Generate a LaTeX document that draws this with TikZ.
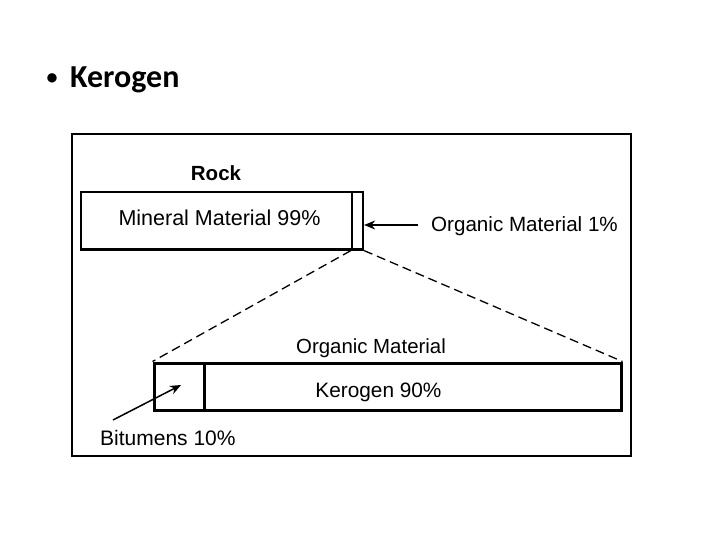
\documentclass[tikz,border=0pt]{standalone}
\usepackage{fontspec}
\setmainfont{Liberation Sans}
\newfontfamily\headfont{Carlito}
\usetikzlibrary{arrows.meta}
\begin{document}
\begin{tikzpicture}[x=1pt,y=-1pt,
  lbl/.style={inner sep=0pt,anchor=base,font=\fontsize{21}{25}\selectfont},
  lblw/.style={lbl,anchor=base west},
  toprect/.style={draw,line width=2.2pt,inner sep=0pt,minimum height=57.5pt},
  botrect/.style={draw,line width=3pt,inner sep=0pt,minimum height=47pt},
  pointer/.style={line width=1.5pt,-{Stealth[length=11pt,width=9pt]}},
  zoomline/.style={line width=1.3pt,dash pattern=on 9pt off 5pt}]
\path[use as bounding box,fill=white] (0,0) rectangle (720,540);
% heading
\node[inner sep=0pt,anchor=base,font=\headfont\bfseries\fontsize{22}{26}\selectfont] (bul) at (52,84.5) {•};
\node[inner sep=0pt,anchor=base west,font=\headfont\bfseries\fontsize{32}{36}\selectfont] (head) at (70,87.5) {Kerogen};
% frame
\node[draw,line width=2.4pt,inner sep=0pt,minimum width=559pt,minimum height=322pt] (frame) at (351.5,295) {};
% top bar
\node[toprect,minimum width=271pt] (mineral) at (216.5,220.75) {};
\node[toprect,minimum width=11pt] (org1) at (357.5,220.75) {};
\node[lbl,font=\bfseries\fontsize{20.5}{24}\selectfont] (rock) at (216,181) {Rock};
\node[lbl,font=\fontsize{21.5}{25}\selectfont] (mintxt) at (219.5,225.5) {Mineral Material 99\%};
\node[lblw,font=\fontsize{20.6}{25}\selectfont] (orgtxt) at (431,231) {Organic Material 1\%};
\coordinate (a1) at (418,225);
\draw[pointer] (a1) -- (org1.east |- a1);
% bottom bar
\node[botrect,minimum width=50pt] (bit) at (179,386.5) {};
\node[botrect,minimum width=417pt] (ker) at (412.5,386.5) {};
\node[lbl,font=\fontsize{20.4}{25}\selectfont] (orgmat) at (371,353) {Organic Material};
\node[lbl,font=\fontsize{20.8}{25}\selectfont] (kertxt) at (378.5,397) {Kerogen 90\%};
\node[lblw,font=\fontsize{21}{25}\selectfont] (bittxt) at (100,445) {Bitumens 10\%};
\coordinate (b1) at (113,420);
\coordinate (b2) at (181,385);
\draw[pointer] (b1) -- (b2);
% zoom lines
\draw[zoomline] (org1.south west) -- (bit.north west);
\draw[zoomline] (org1.south east) -- (ker.north east);
\end{tikzpicture}
\end{document}
